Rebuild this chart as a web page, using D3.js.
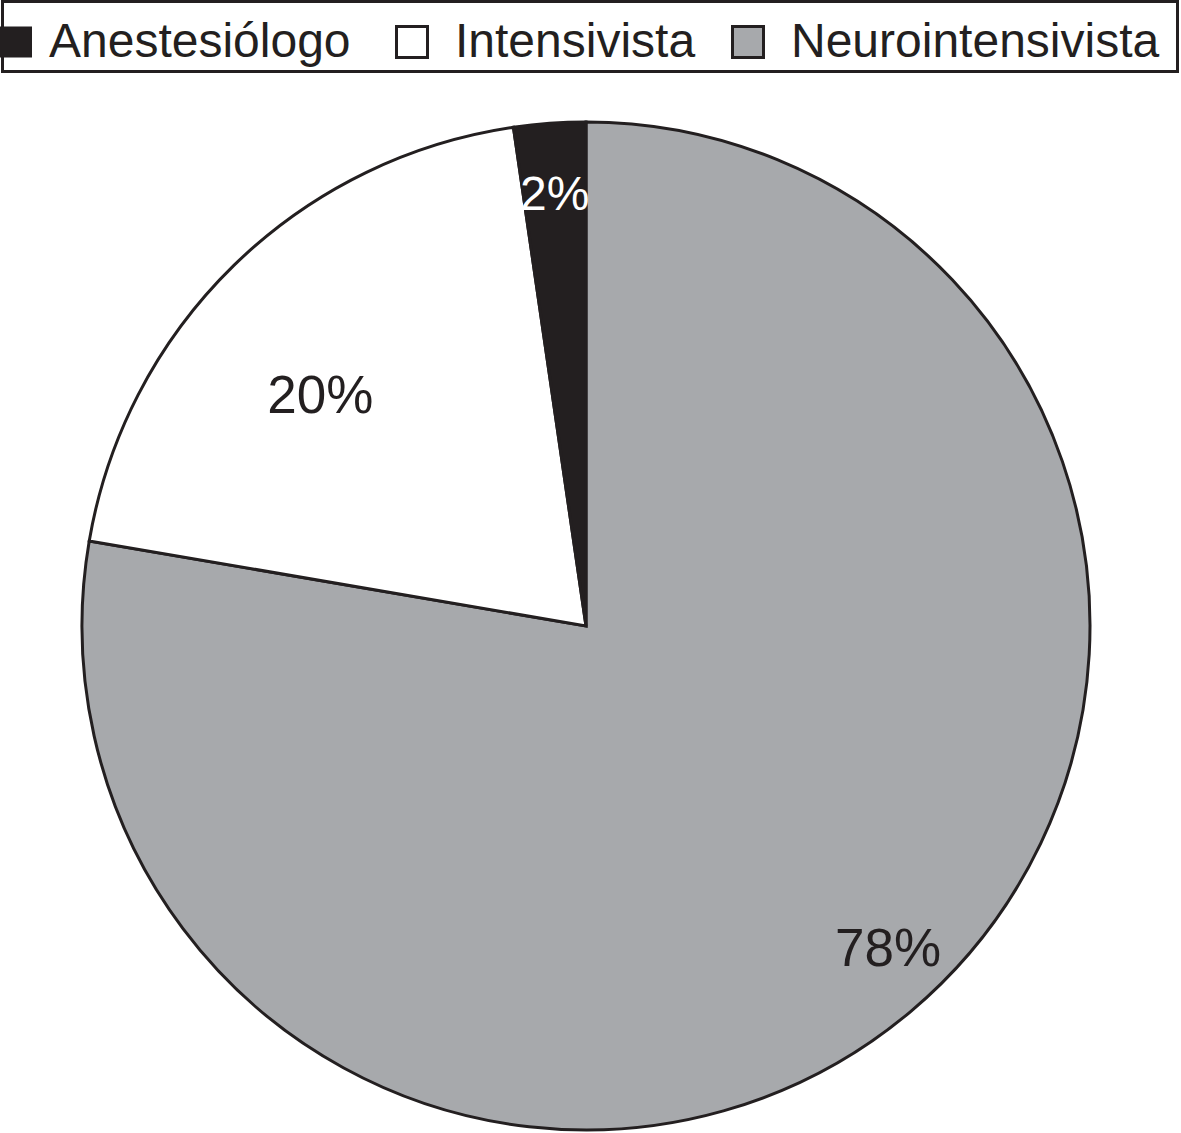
<!DOCTYPE html>
<meta charset="utf-8">
<script src="https://d3js.org/d3.v7.min.js"></script>
<style>
    body { margin: 0; background: #fff; }
    text { font-family: 'Liberation Sans', Arial, Helvetica, sans-serif; }
</style>
<div id="chart"></div>
<script>
    // data, in drawing order (clockwise from 12 o'clock)
    const categories = ["Neurointensivista", "Intensivista", "Anestesiólogo"];
    const shares = [77.7, 20.0, 2.3];
    const shareLabels = ["78%", "20%", "2%"];
    // legend order as printed
    const legendOrder = ["Anestesiólogo", "Intensivista", "Neurointensivista"];

    const colors = d3.scaleOrdinal()
        .domain(categories)
        .range(["#a7a9ac", "#ffffff", "#231f20"]);
    const labelColors = ["#231f20", "#231f20", "#ffffff"];
    // label placement: fraction of radius and angle shift (deg) from slice middle
    const labelRadius = [0.875, 0.70, 0.862];
    const labelShift = [-3.1, -4.6, 0];

    const width = 1181, height = 1133;
    const cx = 586, cy = 626, r = 504;

    let svg = d3.select("#chart")
        .append("svg")
        .attr("width", width)
        .attr("height", height);

    // legend box
    svg.append("rect")
        .attr("x", 2.5).attr("y", 1.5)
        .attr("width", 1175).attr("height", 70)
        .attr("fill", "#fff")
        .attr("stroke", "#231f20")
        .attr("stroke-width", 3);

    let legendX = [0, 395, 731];
    let legend = svg.selectAll(".legend")
        .data(legendOrder)
        .enter().append("g")
        .attr("class", "legend")
        .attr("transform", (d, i) => "translate(" + legendX[i] + ",0)");

    legend.append("rect")
        .attr("x", (d, i) => i === 0 ? 0 : 1.5)
        .attr("y", 26.5)
        .attr("width", (d, i) => i === 0 ? 32 : 31)
        .attr("height", 31)
        .attr("fill", d => colors(d))
        .attr("stroke", "#231f20")
        .attr("stroke-width", (d, i) => i === 0 ? 0 : 3);

    legend.append("text")
        .attr("x", (d, i) => i === 0 ? 49 : 60)
        .attr("y", 57)
        .attr("font-size", 48)
        .attr("fill", "#231f20")
        .text(d => d);

    // pie
    let pie = d3.pie().sort(null).value(d => d);
    let arcs = pie(shares);
    let arc = d3.arc().innerRadius(0).outerRadius(r);

    let g = svg.append("g")
        .attr("transform", "translate(" + cx + "," + cy + ")");

    g.selectAll("path.slice")
        .data(arcs)
        .enter().append("path")
        .attr("class", "slice")
        .attr("d", arc)
        .attr("fill", (d, i) => colors(categories[i]))
        .attr("stroke", "#231f20")
        .attr("stroke-width", 3)
        .attr("stroke-linejoin", "miter");

    g.selectAll("text.pct")
        .data(arcs)
        .enter().append("text")
        .attr("class", "pct")
        .attr("transform", function (d, i) {
            let a = (d.startAngle + d.endAngle) / 2 + labelShift[i] * Math.PI / 180;
            let rr = r * labelRadius[i];
            return "translate(" + (Math.sin(a) * rr) + "," + (-Math.cos(a) * rr) + ")";
        })
        .attr("text-anchor", "middle")
        .attr("dy", "0.36em")
        .attr("font-size", (d, i) => i === 2 ? 48 : 53)
        .attr("fill", (d, i) => labelColors[i])
        .text((d, i) => shareLabels[i]);
</script>
